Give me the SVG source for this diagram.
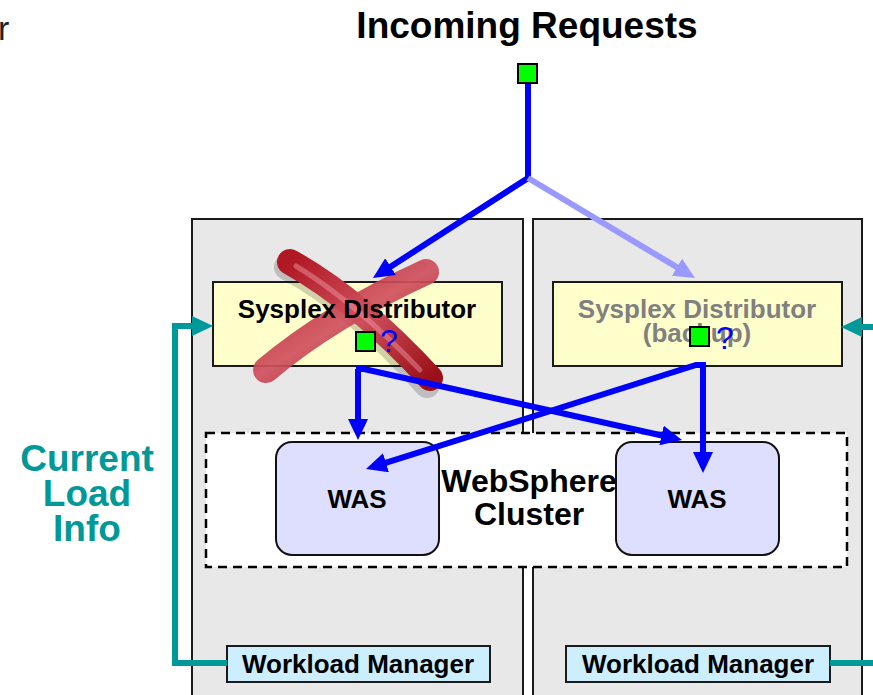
<svg xmlns="http://www.w3.org/2000/svg" width="873" height="695" viewBox="0 0 873 695">
<style>
.panel{fill:#e8e8e8;stroke:#1a1a1a;stroke-width:2}
.sd{fill:#ffffcc;stroke:#1a1a1a;stroke-width:2}
.was{fill:#dedefe;stroke:#111;stroke-width:2}
.wlm{fill:#cceeff;stroke:#1a1a1a;stroke-width:2}
.t{font-family:"Liberation Sans",Arial,sans-serif;font-weight:bold;text-anchor:middle;fill:#000}
.gsq{fill:#00ff00;stroke:#000;stroke-width:2}
.q{font-family:"Liberation Sans",Arial,sans-serif;fill:#0000ff;font-size:32px}
.blue{fill:none;stroke:#0000ff;stroke-width:6;marker-end:url(#ab)}
.teal{fill:none;stroke:#009999;stroke-width:6}
</style>
<defs>
<marker id="ab" markerUnits="userSpaceOnUse" markerWidth="22" markerHeight="20" refX="13" refY="10" orient="auto"><path d="M0,0 L21,10 L0,20 z" fill="#0000ff"/></marker>
<marker id="al" markerUnits="userSpaceOnUse" markerWidth="22" markerHeight="20" refX="13" refY="10" orient="auto"><path d="M0,0 L21,10 L0,20 z" fill="#9999ff"/></marker>
<marker id="at" markerUnits="userSpaceOnUse" markerWidth="22" markerHeight="20" refX="13" refY="10" orient="auto"><path d="M0,0 L21,10 L0,20 z" fill="#009999"/></marker>
<linearGradient id="rx" x1="0" y1="0" x2="1" y2="1">
<stop offset="0" stop-color="#b01824"/><stop offset="0.5" stop-color="#d0505e"/><stop offset="1" stop-color="#9a1018"/>
</linearGradient>
</defs>

<text x="-2" y="40" style="font-family:'Liberation Sans',Arial,sans-serif;font-size:34px;fill:#222">r</text>

<g id="title"><text class="t" x="527" y="38" style="font-size:37px">Incoming Requests</text></g>

<g id="panel-left"><rect class="panel" x="192" y="219" width="331" height="490"/></g>
<g id="panel-right"><rect class="panel" x="533" y="219" width="329" height="490"/></g>

<g id="cluster">
<rect x="206" y="433" width="641" height="134" fill="#ffffff" stroke="#000" stroke-width="2.5" stroke-dasharray="9,6"/>
<text class="t" x="529" y="492" style="font-size:32px">WebSphere</text>
<text class="t" x="529" y="525" style="font-size:32px">Cluster</text>
</g>

<g id="sd-left">
<rect class="sd" x="213" y="282" width="289" height="84"/>
<g>
<path d="M430,380 Q360,300 290,262" fill="none" stroke="#000" stroke-opacity="0.18" stroke-width="26" stroke-linecap="round" transform="translate(-3,5)"/>
<path d="M290,262 Q358,300 430,378" fill="none" stroke="url(#rx)" stroke-width="26" stroke-linecap="round"/>
<path d="M426,272 Q330,316 266,370" fill="none" stroke="url(#rx)" stroke-width="26" stroke-linecap="round" opacity="0.92"/>
<path d="M296,266 Q356,303 420,370" fill="none" stroke="#f0a0a8" stroke-width="5" stroke-linecap="round" opacity="0.45"/>
</g>
<text class="t" x="357" y="318" style="font-size:26px">Sysplex Distributor</text>
</g>

<g id="sd-right">
<rect class="sd" x="553" y="282" width="289" height="84"/>
<text class="t" x="697" y="318" style="font-size:26px;fill:#808080">Sysplex Distributor</text>
<text class="t" x="697" y="342" style="font-size:26px;fill:#808080">(backup)</text>
</g>

<g id="was-left"><rect class="was" x="276" y="442" width="163" height="113" rx="16"/><text class="t" x="357" y="508" style="font-size:26px">WAS</text></g>
<g id="was-right"><rect class="was" x="616" y="442" width="163" height="113" rx="16"/><text class="t" x="697" y="508" style="font-size:26px">WAS</text></g>

<g id="wlm-left"><rect class="wlm" x="227" y="646" width="263" height="36"/><text class="t" x="358" y="673" style="font-size:26px">Workload Manager</text></g>
<g id="wlm-right"><rect class="wlm" x="566" y="646" width="264" height="36"/><text class="t" x="698" y="673" style="font-size:26px">Workload Manager</text></g>

<g id="load-info">
<text class="t" x="87" y="471" style="font-size:37px;fill:#009999">Current</text>
<text class="t" x="87" y="506" style="font-size:37px;fill:#009999">Load</text>
<text class="t" x="87" y="541" style="font-size:37px;fill:#009999">Info</text>
</g>

<g id="connectors">
<path class="blue" d="M528,84 L528,178 L379.7,273.7"/>
<path d="M528,178 L688.1,273.9" fill="none" stroke="#9999ff" stroke-width="6" marker-end="url(#al)"/>
<path class="blue" d="M358,369 L358,432"/>
<path class="blue" d="M356,369 L364,369 L674.2,438.3"/>
<path class="blue" d="M703,365 L703,465"/>
<path class="blue" d="M706,365 L696,365 L373.6,466.7"/>
<path class="teal" d="M227,663 L175,663 L175,326 L205,326" marker-end="url(#at)"/>
<path class="teal" d="M830,663 L873,663"/>
<path class="teal" d="M873,327 L849,327" marker-end="url(#at)"/>
</g>

<g id="markers">
<rect class="gsq" x="518" y="64" width="19" height="19"/>
<rect class="gsq" x="356" y="332" width="19" height="19"/>
<text class="q" x="380" y="352">?</text>
<rect class="gsq" x="690" y="327" width="19" height="19"/>
<text class="q" x="716" y="349">?</text>
</g>
</svg>
